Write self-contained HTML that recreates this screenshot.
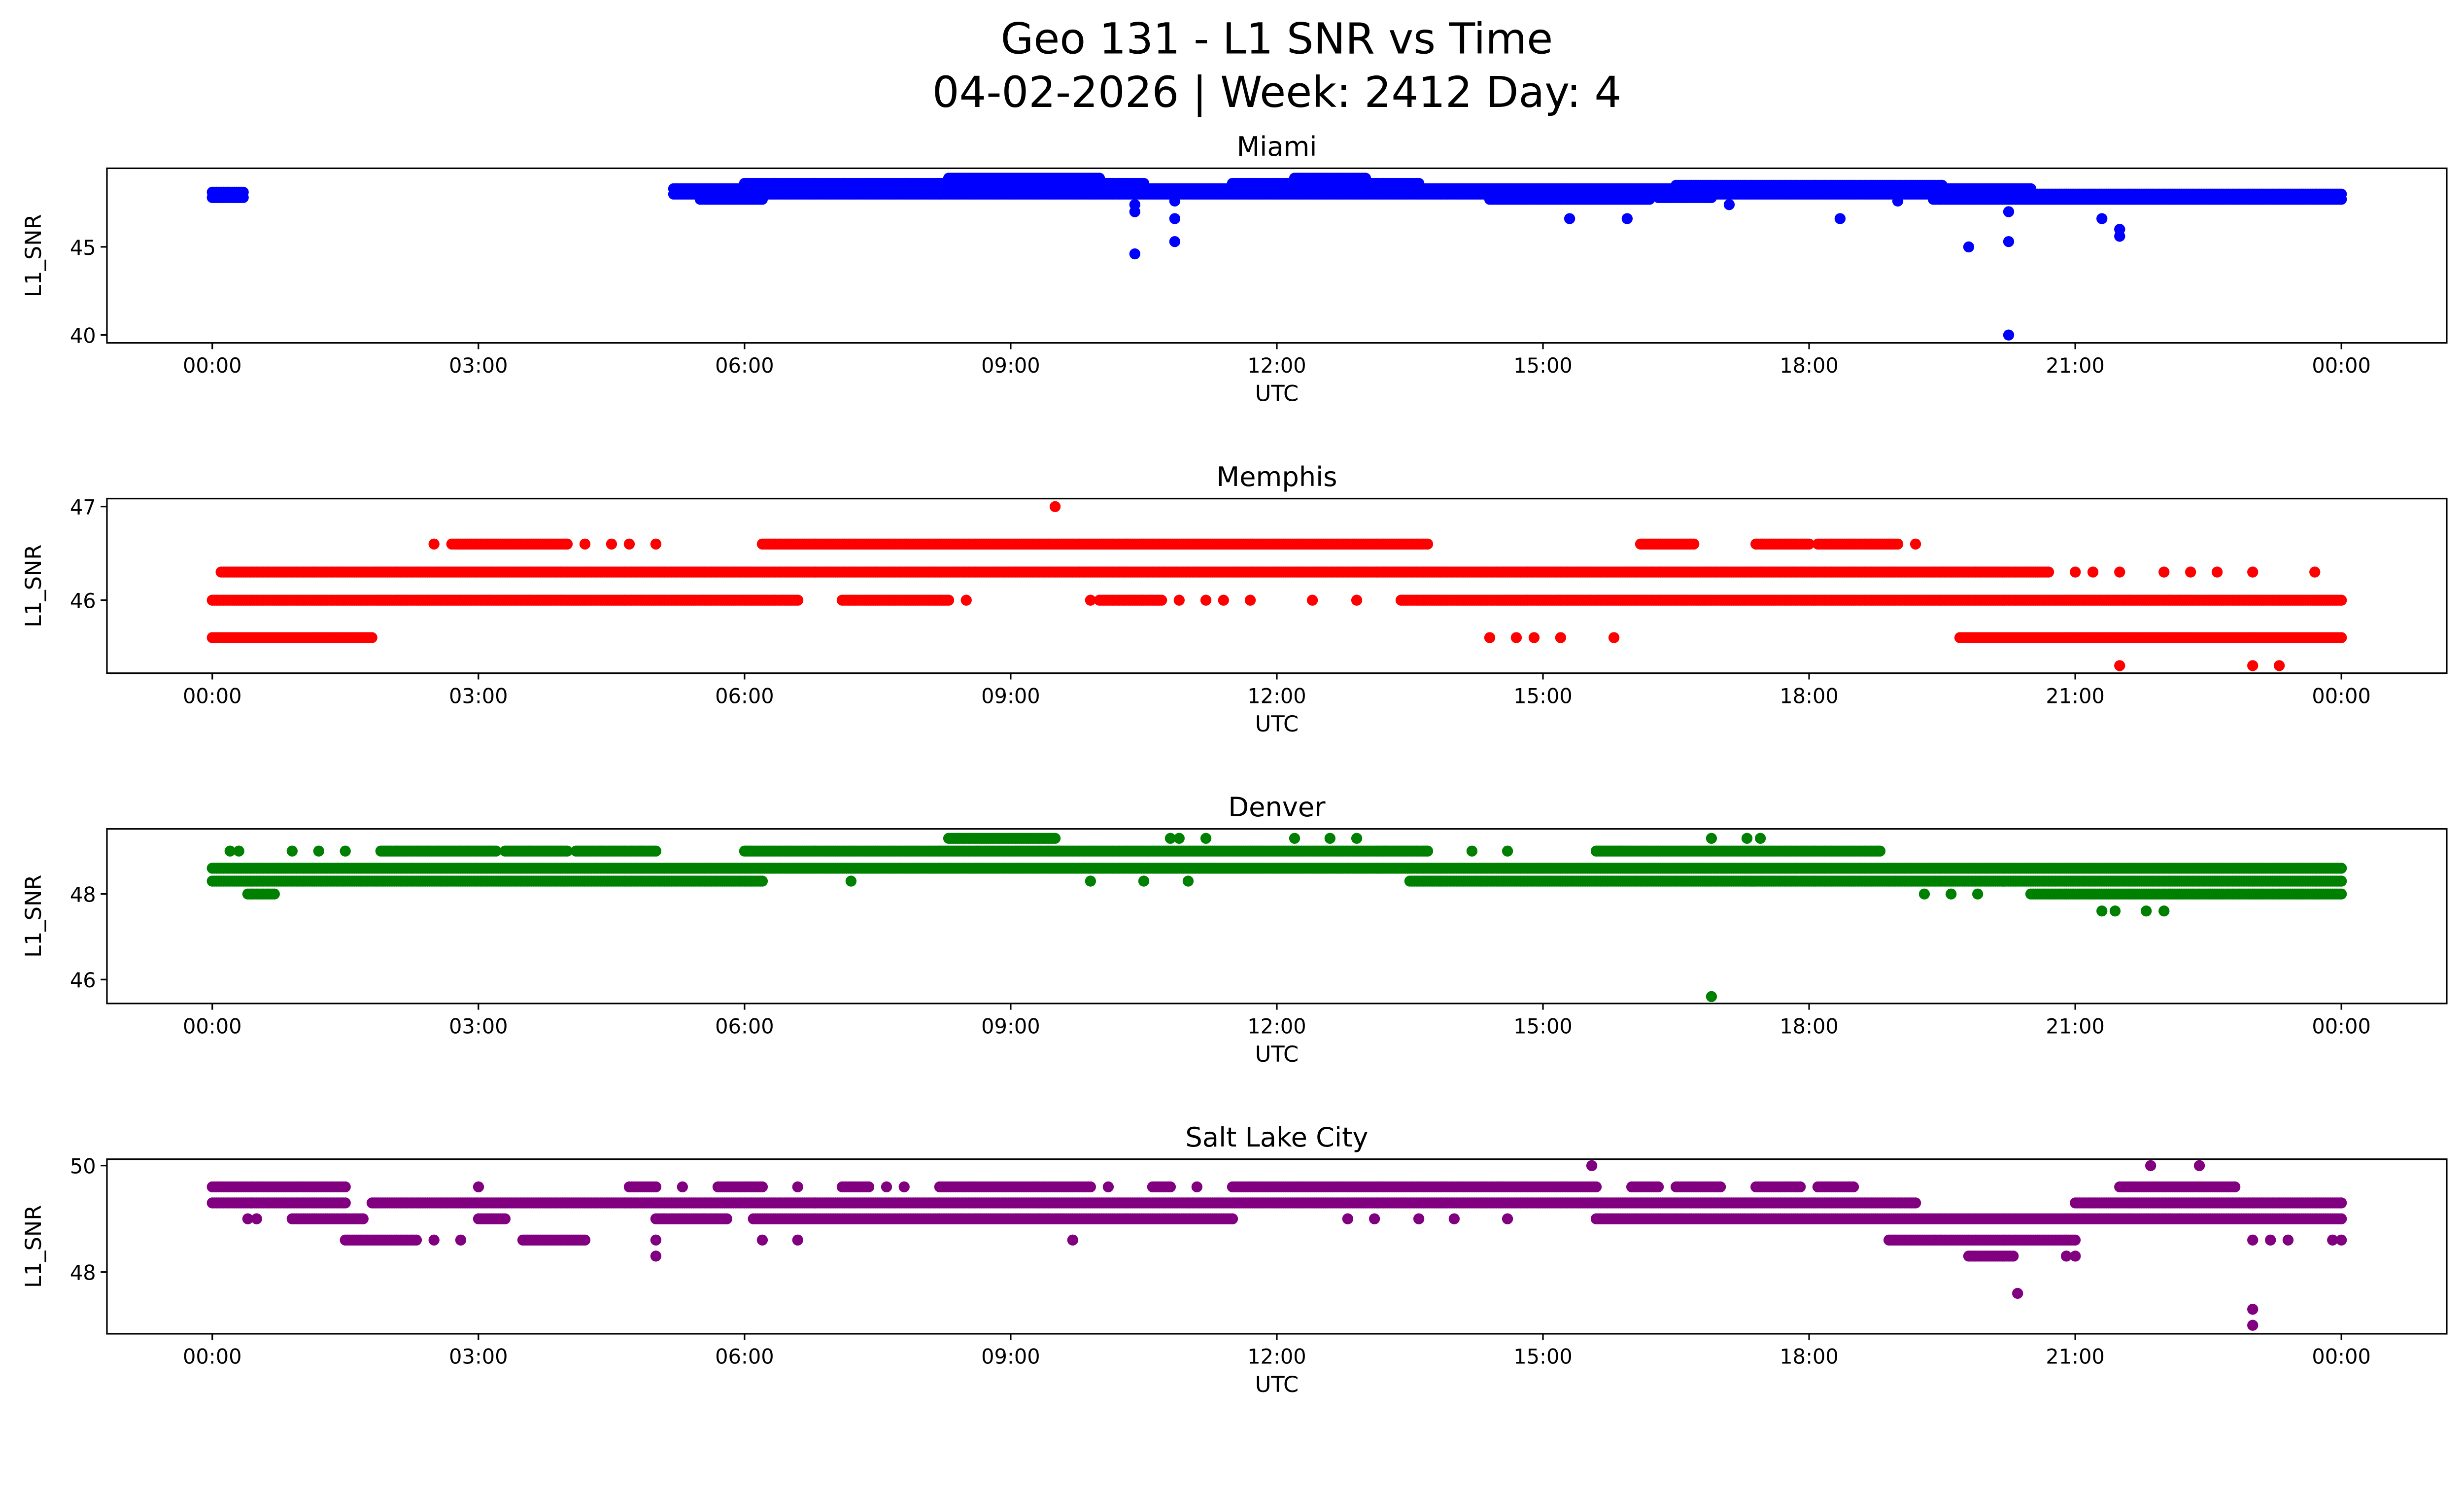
<!DOCTYPE html>
<html><head><meta charset="utf-8"><style>html,body{margin:0;padding:0;background:#fff}svg{display:block;font-family:"DejaVu Sans","Liberation Sans",sans-serif}</style></head>
<body>
<svg id="fig" width="5225" height="3033" viewBox="0 0 1637.5 950.5" preserveAspectRatio="none" xmlns="http://www.w3.org/2000/svg">
<rect width="1640" height="952" fill="#fff"/>
<text x="812" y="34" font-size="27" text-anchor="middle">Geo 131 - L1 SNR vs Time</text>
<text x="812" y="68" font-size="27" text-anchor="middle">04-02-2026 | Week: 2412 Day: 4</text>
</svg>
<script>
// Shared x-axis tick labels
const xTickHours = [0,3,6,9,12,15,18,21,24];
const xTickLabels = ["00:00","03:00","06:00","09:00","12:00","15:00","18:00","21:00","00:00"];
// Panel titles and colours
const stations = ["Miami","Memphis","Denver","Salt Lake City"];
const colors = ["#0000ff","#ff0000","#008000","#800080"];
// Y tick values and limits per panel
const yTicks = [[40,45],[46,47],[46,48],[48,50]];
const yLims = [[39.55,49.46],[45.22,47.085],[45.44,49.52],[46.84,50.12]];
// Runs of continuous samples: [startHour, endHour, SNR]
const miamiRuns = [[0,0.35,47.8],[0,0.35,48.1],[5.2,24,48.0],[5.2,20.5,48.3],[5.5,6.2,47.7],[14.4,16.2,47.7],[16.3,16.9,47.8],[19.4,24,47.7],[6.0,10.5,48.6],[11.5,13.6,48.6],[16.5,19.5,48.5],[8.3,10.0,48.9],[12.2,13.0,48.9]];
// Isolated samples: [hour, SNR]
const miamiPts = [[10.4,44.6],[10.4,47.0],[10.4,47.4],[10.85,45.3],[10.85,46.6],[10.85,47.6],[15.3,46.6],[15.95,46.6],[18.35,46.6],[19.8,45.0],[20.25,45.3],[20.25,40.0],[20.25,47.0],[21.3,46.6],[21.5,45.6],[21.5,46.0],[17.1,47.4],[19.0,47.6]];
const memphisRuns = [[0.1,20.7,46.3],[0,6.6,46.0],[7.1,8.3,46.0],[10.0,10.7,46.0],[13.4,24,46.0],[0,1.8,45.6],[19.7,24,45.6],[2.7,4.0,46.6],[6.2,13.7,46.6],[16.1,16.7,46.6],[17.4,18.0,46.6],[18.1,19.0,46.6]];
const memphisPts = [[2.5,46.6],[4.2,46.6],[4.5,46.6],[4.7,46.6],[5.0,46.6],[8.5,46.0],[9.9,46.0],[10.9,46.0],[11.2,46.0],[11.4,46.0],[11.7,46.0],[12.4,46.0],[12.9,46.0],[14.4,45.6],[14.7,45.6],[14.9,45.6],[15.2,45.6],[15.8,45.6],[19.2,46.6],[9.5,47.0],[21.0,46.3],[21.2,46.3],[21.5,46.3],[22.0,46.3],[22.3,46.3],[22.6,46.3],[23.0,46.3],[23.7,46.3],[21.5,45.3],[23.0,45.3],[23.3,45.3]];
const denverRuns = [[0,19.2,48.6],[0,6.2,48.3],[13.5,24,48.3],[0.4,0.7,48.0],[20.5,24,48.0],[1.9,3.2,49.0],[3.3,4.0,49.0],[4.1,5.0,49.0],[6.0,13.7,49.0],[15.6,18.8,49.0],[19.0,24,48.6],[8.3,9.5,49.3]];
const denverPts = [[0.2,49.0],[0.3,49.0],[0.9,49.0],[1.2,49.0],[1.5,49.0],[10.8,49.3],[10.9,49.3],[11.2,49.3],[12.2,49.3],[12.6,49.3],[12.9,49.3],[16.9,49.3],[17.3,49.3],[17.45,49.3],[14.2,49.0],[14.6,49.0],[16.9,45.6],[21.3,47.6],[21.45,47.6],[21.8,47.6],[22.0,47.6],[19.3,48.0],[19.6,48.0],[19.9,48.0],[7.2,48.3],[9.9,48.3],[10.5,48.3],[11.0,48.3]];
const slcRuns = [[0,1.5,49.6],[4.7,5.0,49.6],[5.7,6.2,49.6],[7.1,7.4,49.6],[8.2,9.9,49.6],[10.6,10.8,49.6],[11.5,15.6,49.6],[16.0,16.3,49.6],[16.5,17.0,49.6],[17.4,17.9,49.6],[18.1,18.5,49.6],[21.5,22.8,49.6],[0,1.5,49.3],[1.8,19.2,49.3],[21.0,24,49.3],[0.9,1.7,49.0],[3.0,3.3,49.0],[5.0,5.8,49.0],[6.1,11.5,49.0],[15.6,24,49.0],[1.5,2.3,48.6],[3.5,4.2,48.6],[18.9,21.0,48.6],[19.8,20.3,48.3]];
const slcPts = [[0.4,49.0],[0.5,49.0],[2.5,48.6],[2.8,48.6],[5.0,48.3],[5.0,48.6],[20.9,48.3],[21.0,48.3],[20.35,47.6],[23.0,47.3],[23.0,47.0],[15.55,50.0],[21.85,50.0],[22.4,50.0],[23.0,48.6],[23.2,48.6],[23.4,48.6],[23.9,48.6],[24,48.6],[6.2,48.6],[6.6,48.6],[9.7,48.6],[3.0,49.6],[5.3,49.6],[6.6,49.6],[7.6,49.6],[7.8,49.6],[10.1,49.6],[11.1,49.6],[12.8,49.0],[13.1,49.0],[13.6,49.0],[14.0,49.0],[14.6,49.0],[19.2,49.3]];
const allRuns = [miamiRuns, memphisRuns, denverRuns, slcRuns];
const allPts = [miamiPts, memphisPts, denverPts, slcPts];

const NS = "http://www.w3.org/2000/svg";
const svg = document.getElementById("fig");
const axL = 68, axR = 1556, axTops = [107,317,527,737], axH = 111;
const xs = h => 135 + h * (1489 - 135) / 24;
function mk(tag, attrs, parent) { const e = document.createElementNS(NS, tag); for (const k in attrs) e.setAttribute(k, attrs[k]); parent.appendChild(e); return e; }

for (let p = 0; p < 4; p++) {
  const top = axTops[p], bot = top + axH, [lo, hi] = yLims[p];
  const ys = v => bot - (v - lo) / (hi - lo) * axH;
  const g = mk("g", {}, svg);
  
  
  const t = mk("text", {x: (axL + axR) / 2, y: top - 8, "font-size": 17, "text-anchor": "middle"}, g);
  t.textContent = stations[p];
  
  
  let d = "";
  const step = 0.025;
  allRuns[p].forEach(r => { for (let h = r[0]; h <= r[1] + 1e-9; h += step) d += "M" + xs(h).toFixed(1) + " " + ys(r[2]).toFixed(1) + "h0"; });
  allPts[p].forEach(q => { d += "M" + xs(q[0]).toFixed(1) + " " + ys(q[1]).toFixed(1) + "h0"; });
  const path = mk("path", {d: d, stroke: colors[p], "stroke-width": 7, "stroke-linecap": "round", fill: "none"}, g);
  
  
  const frame = mk("rect", {x: axL, y: top, width: axR - axL, height: axH, fill: "none", stroke: "#000", "stroke-width": 1}, g);
  
  
  xTickHours.forEach((h, i) => {
    mk("line", {x1: xs(h), x2: xs(h), y1: bot, y2: bot + 4, stroke: "#000"}, g);
    const tl = mk("text", {x: xs(h), y: bot + 19, "font-size": 13, "text-anchor": "middle"}, g);
    tl.textContent = xTickLabels[i];
    
    
  });
  yTicks[p].forEach(v => {
    mk("line", {x1: axL - 4, x2: axL, y1: ys(v), y2: ys(v), stroke: "#000"}, g);
    const tl = mk("text", {x: axL - 7, y: ys(v) + 5, "font-size": 13, "text-anchor": "end"}, g);
    tl.textContent = v;
    
    
  });
  const xl = mk("text", {x: (axL + axR) / 2, y: bot + 37, "font-size": 14, "text-anchor": "middle"}, g);
  xl.textContent = "UTC";
  
  
  const yl = mk("text", {x: 0, y: 0, "font-size": 14, "text-anchor": "middle", transform: "translate(26," + (top + axH / 2) + ") rotate(-90)"}, g);
  yl.textContent = "L1_SNR";
  
  
}
</script>
</body></html>
